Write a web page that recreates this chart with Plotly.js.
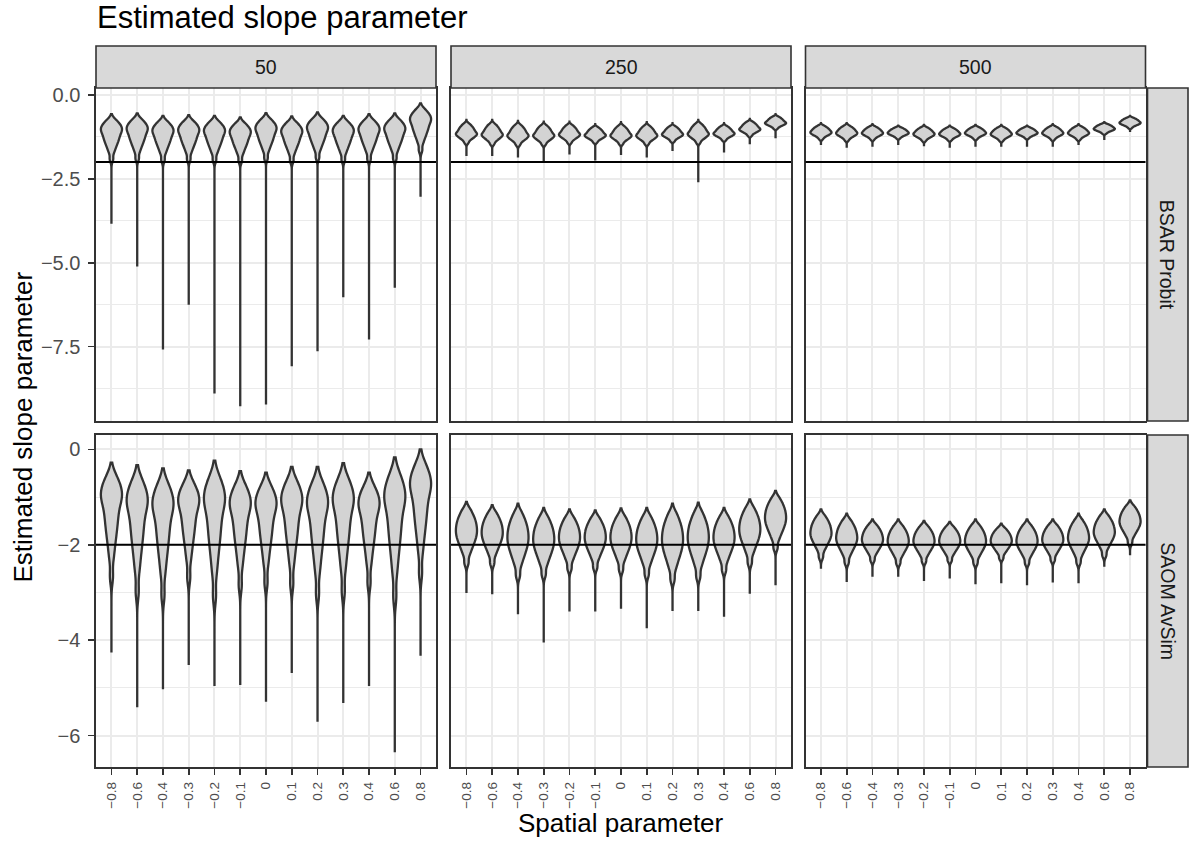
<!DOCTYPE html>
<html>
<head>
<meta charset="utf-8">
<script src="https://cdn.plot.ly/plotly-3.0.1.min.js"></script>
<style>
html,body{margin:0;padding:0;background:#ffffff;}
#chart{width:1192px;height:843px;}
</style>
</head>
<body>
<div id="chart"></div>
<script>
// ---------------- DATA ----------------
const categories = ["\u22120.8","\u22120.6","\u22120.4","\u22120.3","\u22120.2","\u22120.1","0","0.1","0.2","0.3","0.4","0.6","0.8"];
const columnLabels = ["50","250","500"];
const rowLabels = ["BSAR Probit","SAOM AvSim"];
const trueSlope = -2;

// BSAR Probit, n = 50  (mode = widest point, max = top of violin, min = end of lower tail)
const bsar50Mode = [-1.10,-1.08,-1.14,-1.12,-1.14,-1.18,-1.07,-1.16,-1.05,-1.14,-1.10,-1.08,-0.80];
const bsar50Max  = [-0.57,-0.55,-0.62,-0.60,-0.62,-0.67,-0.54,-0.64,-0.52,-0.62,-0.57,-0.55,-0.25];
const bsar50Min  = [-3.84,-5.11,-7.59,-6.25,-8.90,-9.28,-9.23,-8.09,-7.64,-6.03,-7.29,-5.75,-3.03];
// BSAR Probit, n = 250
const bsar250Mode = [-1.12,-1.14,-1.17,-1.17,-1.14,-1.17,-1.17,-1.17,-1.14,-1.12,-1.12,-0.99,-0.81];
const bsar250Max  = [-0.74,-0.74,-0.77,-0.79,-0.79,-0.87,-0.81,-0.81,-0.84,-0.74,-0.84,-0.71,-0.57];
const bsar250Min  = [-1.82,-1.82,-1.86,-2.01,-1.77,-1.95,-1.79,-1.86,-1.67,-2.60,-1.71,-1.47,-1.29];
// BSAR Probit, n = 500
const bsar500Mode = [-1.09,-1.11,-1.11,-1.11,-1.14,-1.14,-1.11,-1.14,-1.11,-1.11,-1.11,-0.99,-0.81];
const bsar500Max  = [-0.84,-0.84,-0.87,-0.91,-0.89,-0.91,-0.89,-0.89,-0.91,-0.87,-0.87,-0.81,-0.62];
const bsar500Min  = [-1.49,-1.57,-1.54,-1.49,-1.49,-1.57,-1.54,-1.54,-1.54,-1.54,-1.49,-1.34,-1.07];
// SAOM AvSim, n = 50
const saom50Mode = [-1.10,-1.24,-1.31,-1.21,-1.21,-1.28,-1.28,-1.21,-1.28,-1.21,-1.28,-1.17,-0.89];
const saom50Max  = [-0.28,-0.33,-0.40,-0.44,-0.24,-0.46,-0.49,-0.37,-0.37,-0.29,-0.49,-0.17,0.00];
const saom50Min  = [-4.26,-5.41,-5.03,-4.52,-4.96,-4.94,-5.29,-4.69,-5.71,-5.32,-4.96,-6.35,-4.33];
// SAOM AvSim, n = 250
const saom250Mode = [-1.69,-1.73,-1.83,-1.87,-1.83,-1.83,-1.83,-1.87,-1.87,-1.83,-1.83,-1.66,-1.42];
const saom250Max  = [-1.10,-1.17,-1.14,-1.23,-1.26,-1.28,-1.24,-1.23,-1.14,-1.12,-1.23,-1.05,-0.87];
const saom250Min  = [-3.01,-3.04,-3.46,-4.05,-3.40,-3.40,-3.34,-3.75,-3.39,-3.39,-3.51,-3.03,-2.85];
// SAOM AvSim, n = 500
const saom500Mode = [-1.73,-1.83,-1.87,-1.90,-1.90,-1.90,-1.90,-1.90,-1.90,-1.87,-1.83,-1.71,-1.49];
const saom500Max  = [-1.26,-1.35,-1.47,-1.47,-1.50,-1.52,-1.47,-1.56,-1.47,-1.47,-1.35,-1.26,-1.07];
const saom500Min  = [-2.48,-2.78,-2.67,-2.67,-2.76,-2.71,-2.83,-2.81,-2.85,-2.79,-2.81,-2.46,-2.22];

// shape of the violin bodies: lower side (standard quantiles) and upper side (cap quantiles)
const lowerQuantiles = [0.0522,0.1573,0.2637,0.3741,0.4888,0.6105,0.7421,0.8871,1.0545,1.2587,1.5341,2.0375];
const upperQuantiles = [0.0334,0.1004,0.1684,0.2382,0.3091,0.3855,0.4673,0.5582,0.6655,0.8127];
// per panel: lower spread, upper spread, distance mode->top, kernel bandwidth
const lowerSpread = [0.40, 0.15, 0.11, 0.80, 0.34, 0.25];
const upperSpread = [0.47, 0.33, 0.22, 0.75, 0.55, 0.42];
const topDistance = [0.53, 0.38, 0.25, 0.85, 0.59, 0.45];
const kernelWidth = [0.09, 0.045, 0.035, 0.17, 0.08, 0.06];

// ---------------- LAYOUT GEOMETRY ----------------
const W = 1192, H = 843;
const colPx = [[96,436],[451,791],[805.5,1145.5]];
const rowPx = [[88,421],[435,767]];
const stripTopPx = [46,88];
const stripRightPx = [1147.5,1188];
const yRanges = [[-9.72,0.21],[-6.66,0.30]];
const yTicks = [[0,-2.5,-5,-7.5],[0,-2,-4,-6]];
const yTickText = [["0.0","\u22122.5","\u22125.0","\u22127.5"],["0","\u22122","\u22124","\u22126"]];
const yMinor = [[-1.25,-3.75,-6.25,-8.75],[-1,-3,-5]];

const panels = [
  {row:0,col:0,mode:bsar50Mode,max:bsar50Max,min:bsar50Min},
  {row:0,col:1,mode:bsar250Mode,max:bsar250Max,min:bsar250Min},
  {row:0,col:2,mode:bsar500Mode,max:bsar500Max,min:bsar500Min},
  {row:1,col:0,mode:saom50Mode,max:saom50Max,min:saom50Min},
  {row:1,col:1,mode:saom250Mode,max:saom250Max,min:saom250Min},
  {row:1,col:2,mode:saom500Mode,max:saom500Max,min:saom500Min}
];

const FONT = "Liberation Sans, Arial, Helvetica, sans-serif";
const px2x = v => v / W;
const px2y = v => 1 - v / H;

const traces = [];
const layout = {
  width: W, height: H,
  margin: {l:0,r:0,t:0,b:0},
  paper_bgcolor: "#ffffff",
  plot_bgcolor: "#ffffff",
  showlegend: false,
  violinmode: "overlay",
  font: {family: FONT, color: "#000000"},
  title: {
    text: "Estimated slope parameter",
    x: px2x(97), xref: "paper", xanchor: "left",
    y: 1 - 17/H, yref: "container", yanchor: "middle",
    font: {size: 31, color: "#000000", family: FONT}
  },
  shapes: [],
  annotations: []
};

panels.forEach((p, k) => {
  const idx = k + 1;
  const xa = idx === 1 ? "x" : "x" + idx;
  const ya = idx === 1 ? "y" : "y" + idx;
  categories.forEach((cat, i) => {
    const s = (p.max[i] - p.mode[i]) / topDistance[k];
    const lower = lowerQuantiles.map(q => p.mode[i] - s * lowerSpread[k] * q);
    const upper = upperQuantiles.map(q => p.mode[i] + s * upperSpread[k] * q);
    const ys = lower.reverse().concat(upper);
    traces.push({
      type: "violin",
      x: ys.map(() => cat),
      y: ys,
      xaxis: xa, yaxis: ya,
      name: rowLabels[p.row] + " " + columnLabels[p.col] + " " + cat,
      spanmode: "manual",
      span: [p.min[i], p.max[i]],
      bandwidth: kernelWidth[k] * s,
      width: 0.82,
      scalemode: "width",
      points: false,
      box: {visible: false},
      meanline: {visible: false},
      fillcolor: "#D3D3D3",
      line: {color: "#333333", width: 2.3},
      hoverinfo: "skip"
    });
  });

  const [c0, c1] = colPx[p.col];
  const [r0, r1] = rowPx[p.row];
  layout["xaxis" + (idx === 1 ? "" : idx)] = {
    domain: [px2x(c0), px2x(c1)],
    anchor: ya,
    type: "category",
    categoryorder: "array",
    categoryarray: categories,
    range: [-0.6, categories.length - 0.4],
    showgrid: true, gridcolor: "#EBEBEB", gridwidth: 2,
    zeroline: false,
    showline: true, mirror: true, linecolor: "#333333", linewidth: 1.6,
    ticks: p.row === 1 ? "outside" : "",
    ticklen: 6, tickwidth: 1.6, tickcolor: "#333333",
    showticklabels: p.row === 1,
    tickangle: -90,
    ticklabelstandoff: 2,
    tickfont: {size: 13.5, color: "#4D4D4D", family: FONT},
    fixedrange: true
  };
  layout["yaxis" + (idx === 1 ? "" : idx)] = {
    domain: [px2y(r1), px2y(r0)],
    anchor: xa,
    range: yRanges[p.row],
    tickmode: "array",
    tickvals: yTicks[p.row],
    ticktext: yTickText[p.row],
    showgrid: true, gridcolor: "#EBEBEB", gridwidth: 2,
    minor: {tickmode: "array", tickvals: yMinor[p.row], showgrid: true, gridcolor: "#EBEBEB", gridwidth: 1, ticks: ""},
    zeroline: false,
    showline: true, mirror: true, linecolor: "#333333", linewidth: 1.6,
    ticks: p.col === 0 ? "outside" : "",
    ticklen: 6, tickwidth: 1.6, tickcolor: "#333333",
    showticklabels: p.col === 0,
    ticklabelstandoff: 4,
    tickfont: {size: 20, color: "#4D4D4D", family: FONT},
    fixedrange: true
  };
  layout.shapes.push({
    type: "line", layer: "above",
    xref: xa + " domain", x0: 0, x1: 1,
    yref: ya, y0: trueSlope, y1: trueSlope,
    line: {color: "#000000", width: 2}
  });
});

// strips
columnLabels.forEach((lab, c) => {
  const [c0, c1] = colPx[c];
  layout.shapes.push({
    type: "rect", xref: "paper", yref: "paper", layer: "above",
    x0: px2x(c0), x1: px2x(c1), y0: px2y(stripTopPx[1]), y1: px2y(stripTopPx[0]),
    fillcolor: "#D9D9D9", line: {color: "#333333", width: 1.6}
  });
  layout.annotations.push({
    xref: "paper", yref: "paper", x: px2x((c0 + c1) / 2), y: px2y((stripTopPx[0] + stripTopPx[1]) / 2),
    text: lab, showarrow: false, xanchor: "center", yanchor: "middle",
    font: {size: 19.5, color: "#1A1A1A", family: FONT}
  });
});
rowLabels.forEach((lab, r) => {
  const [r0, r1] = rowPx[r];
  layout.shapes.push({
    type: "rect", xref: "paper", yref: "paper", layer: "above",
    x0: px2x(stripRightPx[0]), x1: px2x(stripRightPx[1]), y0: px2y(r1), y1: px2y(r0),
    fillcolor: "#D9D9D9", line: {color: "#333333", width: 1.6}
  });
  layout.annotations.push({
    xref: "paper", yref: "paper", x: px2x((stripRightPx[0] + stripRightPx[1]) / 2), y: px2y((r0 + r1) / 2),
    text: lab, showarrow: false, xanchor: "center", yanchor: "middle", textangle: 90,
    font: {size: 19.5, color: "#1A1A1A", family: FONT}
  });
});

// axis titles
layout.annotations.push({
  xref: "paper", yref: "paper", x: px2x((colPx[0][0] + colPx[2][1]) / 2), y: px2y(823),
  text: "Spatial parameter", showarrow: false, xanchor: "center", yanchor: "middle",
  font: {size: 26, color: "#000000", family: FONT}
});
layout.annotations.push({
  xref: "paper", yref: "paper", x: px2x(22), y: px2y((rowPx[0][0] + rowPx[1][1]) / 2),
  text: "Estimated slope parameter", showarrow: false, xanchor: "center", yanchor: "middle", textangle: -90,
  font: {size: 26, color: "#000000", family: FONT}
});

Plotly.newPlot("chart", traces, layout, {staticPlot: true, displayModeBar: false});
</script>
</body>
</html>
